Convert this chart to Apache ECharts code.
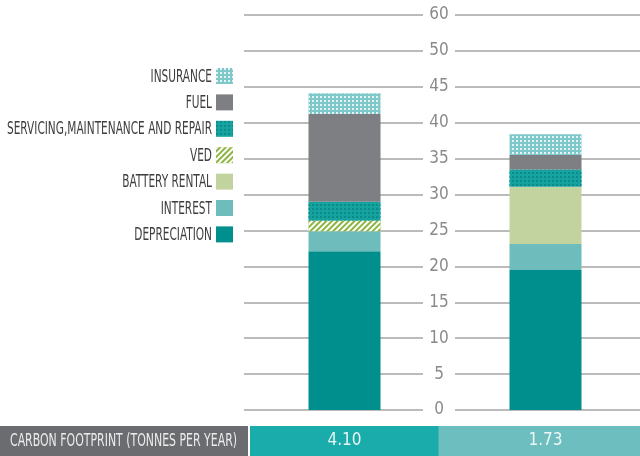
<!DOCTYPE html>
<html>
<head>
<meta charset="utf-8">
<script src="https://cdn.jsdelivr.net/npm/echarts@6/dist/echarts.min.js"></script>
<style>
  html, body { margin: 0; padding: 0; background: #fff; }
  #chart { width: 640px; height: 456px; }
</style>
</head>
<body>
<div id="chart"></div>
<script>
  // 数据
  var vehicles = ['Vehicle A', 'Vehicle B']
  var carbon = ['4.10', '1.73']
  var yTicks = ['0', '5', '10', '15', '20', '25', '30', '35', '40', '45', '50', '60']
  var legendNames = ['INSURANCE', 'FUEL', 'SERVICING,MAINTENANCE AND REPAIR', 'VED', 'BATTERY RENTAL', 'INTEREST', 'DEPRECIATION']

  var depreciation = [22.1, 19.5]
  var interest = [2.8, 3.6]
  var batteryRental = [0, 8.0]
  var ved = [1.5, 0]
  var servicing = [2.6, 2.4]
  var fuel = [12.2, 2.0]
  var insurance = [2.9, 2.9]

  var narrow = '"DejaVu Sans Condensed", "Liberation Sans Narrow", sans-serif'

  // 文字宽度,用于压缩字体
  var ctx = document.createElement('canvas').getContext('2d')
  function textW (txt, size) {
    ctx.font = size + 'px ' + narrow
    return ctx.measureText(txt).width
  }
  var legendScale = 205 / textW('SERVICING,MAINTENANCE AND REPAIR', 18)
  var footScale = 227 / textW('CARBON FOOTPRINT (TONNES PER YEAR)', 18)

  var legTop = 68
  var legH = 16
  var legGap = 10.4

  var chart = echarts.init(document.getElementById('chart'))

  function bar (name, data, color, decal) {
    var s = {
      name: name,
      type: 'bar',
      stack: 'total',
      barWidth: 72,
      data: data,
      itemStyle: { color: color }
    }
    if (decal) s.itemStyle.decal = decal
    return s
  }

  var graphics = [{
    type: 'rect',
    shape: { x: 0, y: 426, width: 248, height: 30 },
    style: { fill: '#6b6c70' }
  }, {
    type: 'text',
    x: 10,
    y: 441,
    scaleX: footScale,
    style: { text: 'CARBON FOOTPRINT (TONNES PER YEAR)', fill: '#ececec', font: '18px ' + narrow, verticalAlign: 'middle' }
  }]
  for (var i = 0; i < legendNames.length; i++) {
    graphics.push({
      type: 'text',
      x: 212,
      y: legTop + i * (legH + legGap) + legH / 2 + 1,
      scaleX: legendScale,
      style: { text: legendNames[i], fill: '#3d3d40', font: '18px ' + narrow, align: 'right', verticalAlign: 'middle' }
    })
  }

  chart.setOption({
    animation: false,
    grid: { left: 244, top: 15, width: 402, bottom: 46, outerBoundsMode: 'none', containLabel: false },
    legend: {
      orient: 'vertical',
      align: 'right',
      right: 407,
      top: legTop,
      padding: 0,
      icon: 'rect',
      itemWidth: 17,
      itemHeight: legH,
      itemGap: legGap,
      selectedMode: false,
      data: legendNames,
      formatter: function () { return '' },
      textStyle: { fontSize: 1, padding: 0 }
    },
    xAxis: {
      type: 'category',
      data: vehicles,
      axisLine: { show: false },
      axisTick: { show: false },
      axisLabel: {
        margin: 16,
        interval: 0,
        hideOverlap: false,
        formatter: function (v, i) {
          return '{c' + i + '|' + carbon[i] + '}'
        },
        rich: {
          c0: { backgroundColor: '#1aabab', width: 189, height: 30, lineHeight: 30, align: 'center', color: '#e9f4f4', fontFamily: narrow, fontSize: 17 },
          c1: { backgroundColor: '#6dbebf', width: 214, height: 30, lineHeight: 30, align: 'center', color: '#eef6f6', fontFamily: narrow, fontSize: 17 }
        }
      }
    },
    yAxis: [{
      type: 'value',
      min: 0,
      max: 55,
      interval: 5,
      z: 0,
      axisLine: { show: false },
      axisTick: { show: false },
      axisLabel: { show: false },
      splitLine: { lineStyle: { color: '#a5a5a5', width: 1.5 } }
    }, {
      type: 'value',
      min: 0,
      max: 55,
      interval: 5,
      z: 5,
      position: 'left',
      offset: -195,
      axisLine: { show: false },
      axisTick: { show: false },
      splitLine: { show: false },
      axisLabel: {
        margin: 0,
        align: 'center',
        width: 32,
        backgroundColor: '#fff',
        color: '#8a8a8d',
        fontFamily: narrow,
        fontSize: 17,
        formatter: function (v) { return yTicks[Math.round(v / 5)] }
      }
    }],
    graphic: graphics,
    series: [
      bar('DEPRECIATION', depreciation, '#008f8c'),
      bar('INTEREST', interest, '#6fbcbd'),
      bar('BATTERY RENTAL', batteryRental, '#c3d39f'),
      bar('VED', ved, '#8cb540', { symbol: 'rect', color: '#ffffff', dashArrayX: [1, 0], dashArrayY: [2, 2], rotation: -Math.PI / 4 }),
      bar('SERVICING,MAINTENANCE AND REPAIR', servicing, '#16a3a0', { symbol: 'rect', color: '#0b8b89', dashArrayX: [2, 2], dashArrayY: [2, 2], symbolSize: 1 }),
      bar('FUEL', fuel, '#7e7f83'),
      bar('INSURANCE', insurance, '#7fc8c9', { symbol: 'rect', color: '#e4f4f4', dashArrayX: [2, 2], dashArrayY: [2, 2], symbolSize: 1 })
    ]
  })
</script>
</body>
</html>
